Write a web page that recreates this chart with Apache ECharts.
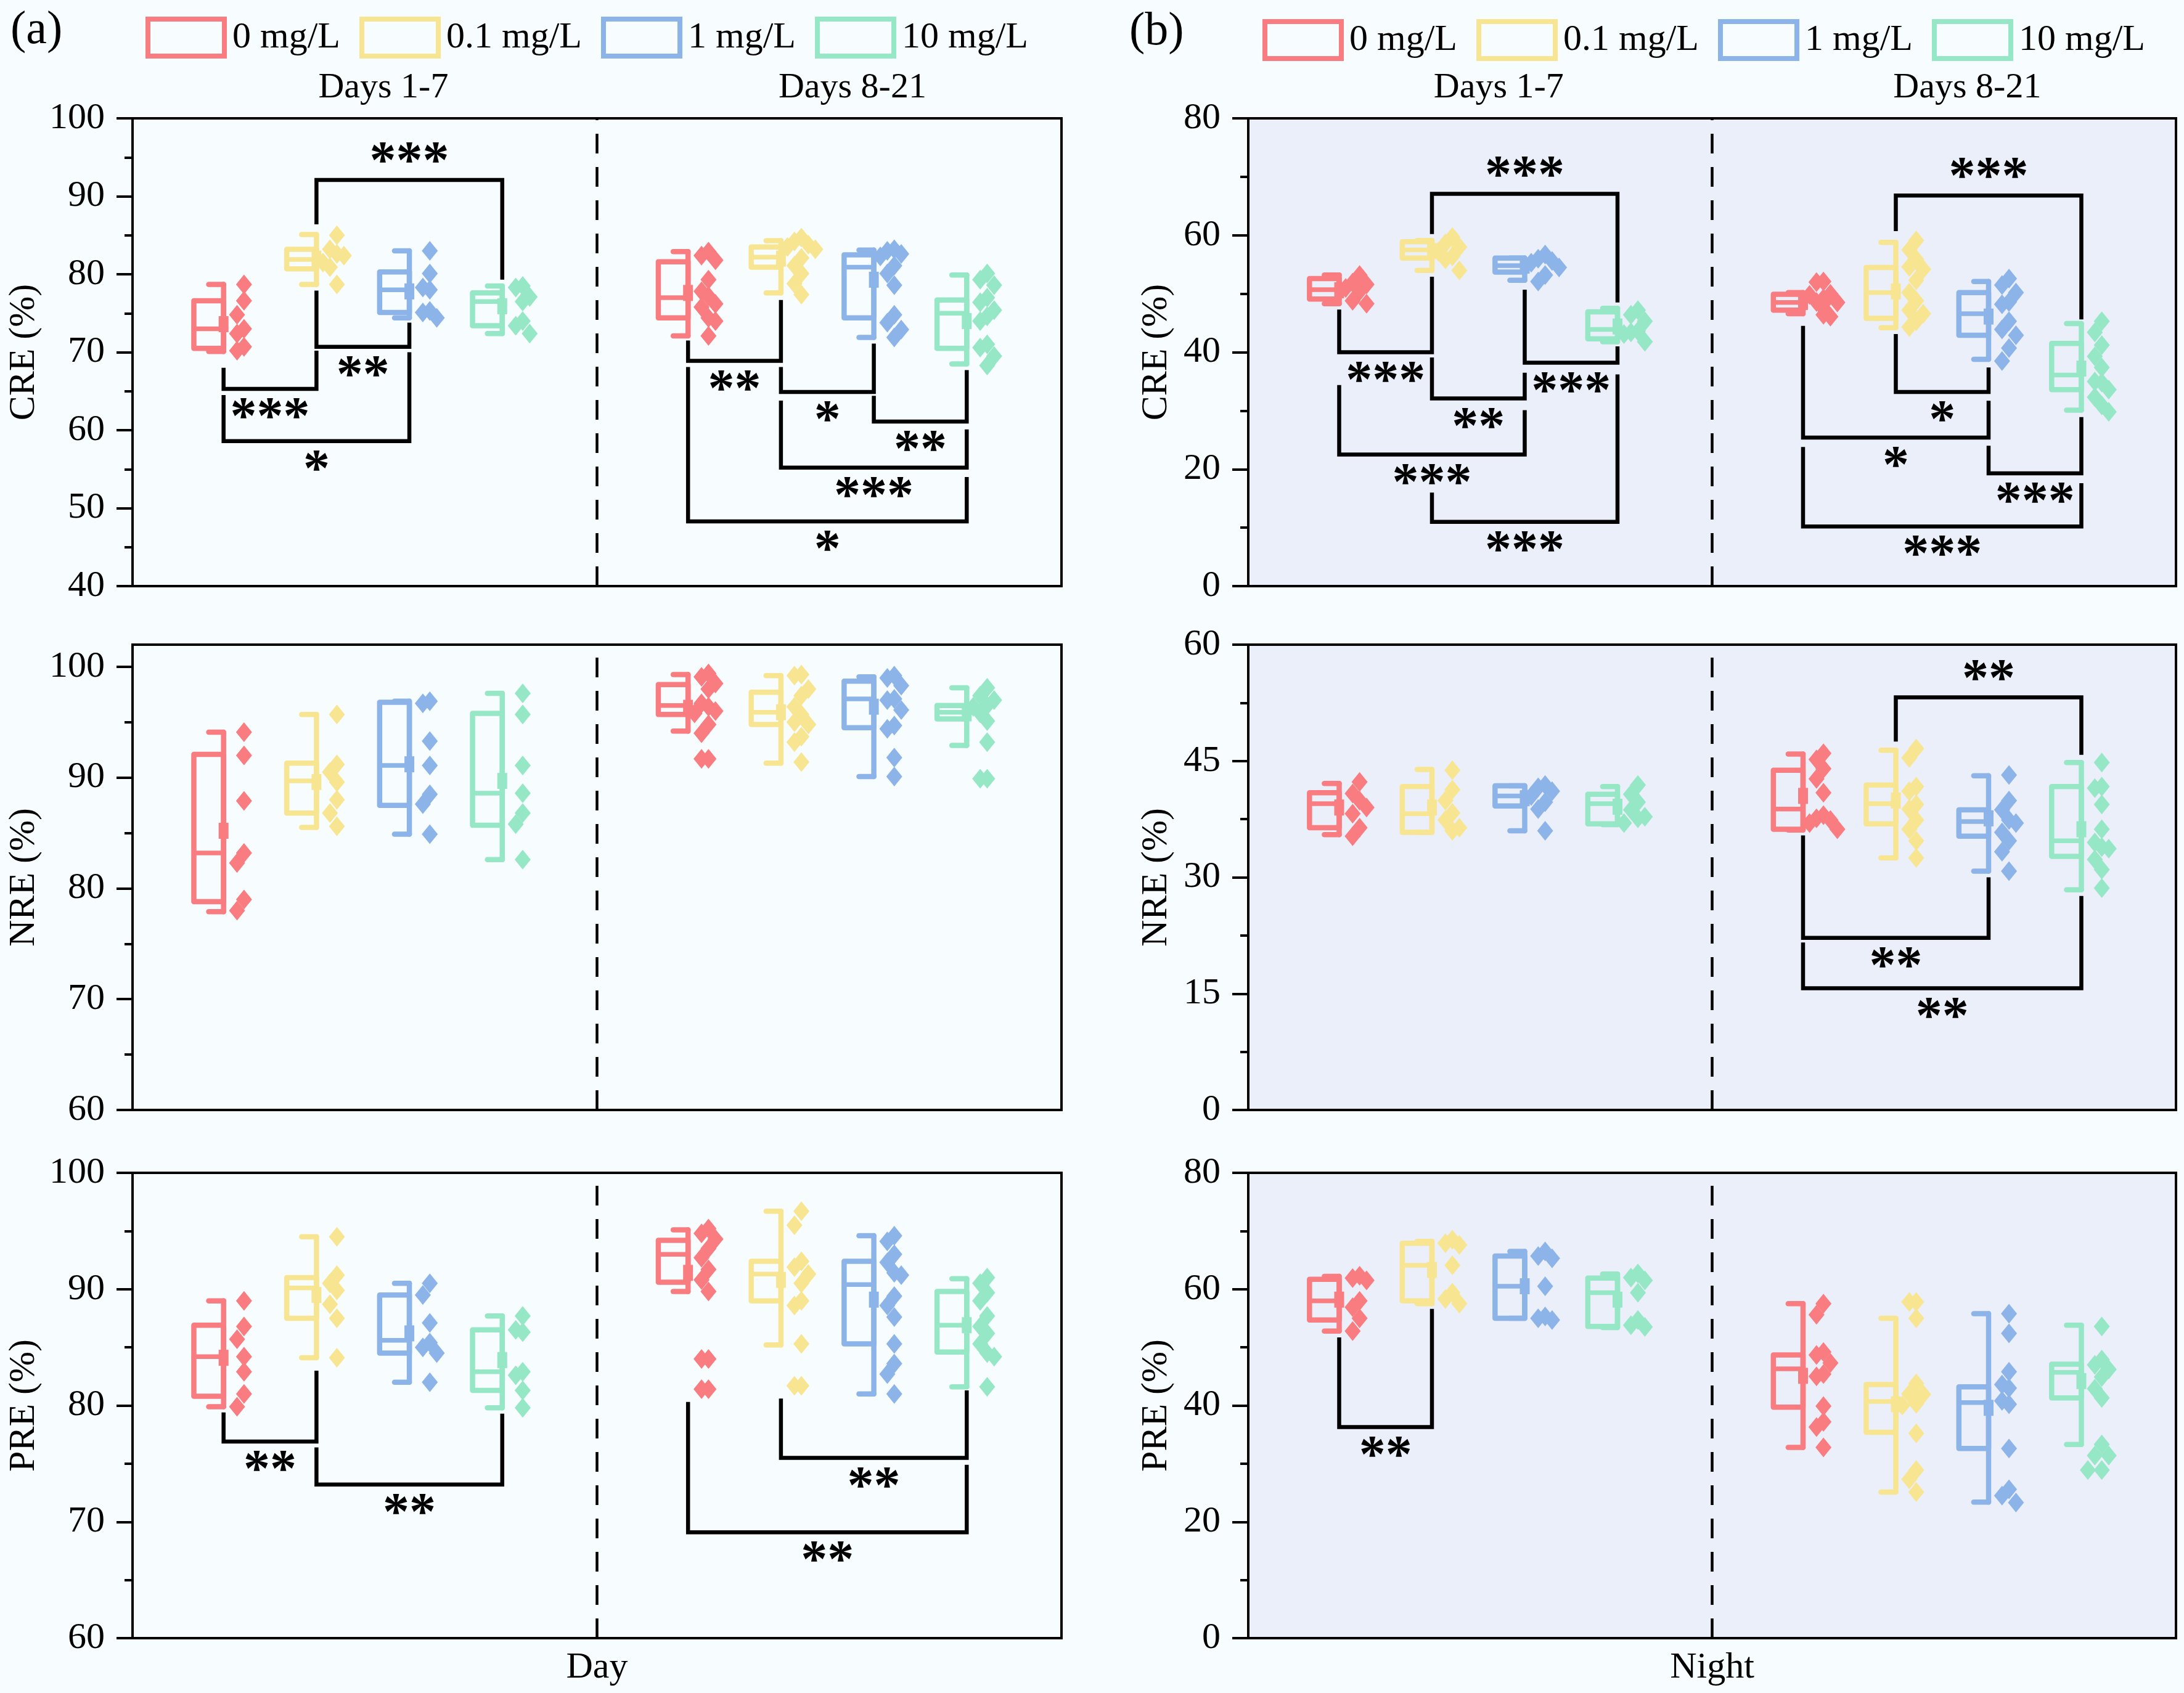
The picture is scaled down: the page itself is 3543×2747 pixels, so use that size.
<!DOCTYPE html>
<html><head><meta charset="utf-8">
<script src="https://cdn.jsdelivr.net/npm/echarts@6/dist/echarts.min.js"></script>
<style>html,body{margin:0;padding:0;background:#F7FDFF;} #c{width:3543px;height:2747px;}</style>
</head><body><div id="c"></div>
<script>
// ---------- categories / labels ----------
const concNames = ['0 mg/L', '0.1 mg/L', '1 mg/L', '10 mg/L'];
const periodLabels = ['Days 1-7', 'Days 8-21'];
const periodPos = [[1, 2, 3, 4], [6, 7, 8, 9]];
const headerPos = [2.7, 7.75];
const xAxisNames = ['Day', 'Night'];
const panelLetters = ['(a)', '(b)'];
const starLabels = ['', '*', '**', '***'];

// box stats: [min, q1, median, q3, max, mean]  (one row per concentration)
// ---- (a) Day, CRE ----
const aCRE_box_d1 = [[70.1,70.5,73.0,76.6,78.7,73.6],[78.7,80.7,81.9,83.2,85.1,82.0],[74.4,75.1,78.0,80.3,83.0,77.8],[72.4,73.4,76.5,77.6,78.5,75.9]];
const aCRE_box_d2 = [[72.1,74.4,77.0,81.6,82.9,77.6],[77.6,80.9,82.2,83.5,84.3,82.0],[71.9,74.4,80.9,82.5,83.1,79.3],[68.5,70.5,75.0,76.7,79.9,74.0]];
const aCRE_pts_d1 = [[78.7,76.6,74.8,73.0,72.4,70.7,70.2],[85.0,83.2,82.6,82.4,81.5,80.9,78.7],[83.0,80.1,78.3,78.0,75.3,75.1,74.4],[78.5,78.3,77.1,76.5,74.0,73.4,72.4]];
const aCRE_pts_d2 = [[82.9,82.4,81.8,79.3,77.8,77.2,76.2,75.8,74.4,74.0,72.1],[84.7,84.2,83.8,83.5,83.2,82.1,81.1,80.1,78.8,77.4],[83.2,83.0,82.6,82.3,81.1,80.1,78.6,74.8,73.8,72.9,71.9],[80.1,79.3,78.6,77.0,76.4,75.4,74.6,74.0,71.0,70.6,69.5,68.3]];
// significance: [x1, x2, level, leg1End, leg2End, stars]
const aCRE_sig = [[2,4,92.1,86.4,79.3,3],[2,3,70.7,77.9,73.8,2],[1,2,65.3,68.0,70.2,3],[1,3,58.6,64.5,70.0,1],[6,7,68.9,71.5,76.7,2],[7,8,64.9,68.1,71.1,1],[8,9,61.1,64.4,67.7,2],[7,9,55.2,63.8,60.1,3],[6,9,48.3,68.1,54.0,1]];
const aCRE_ticks = [40,50,60,70,80,90,100];
const aCRE_minor = [45,55,65,75,85,95];

// ---- (a) Day, NRE ----
const aNRE_box_d1 = [[77.9,78.8,83.2,92.1,94.1,85.2],[85.5,86.8,89.7,91.3,95.7,89.6],[84.9,87.5,91.1,96.8,96.9,91.2],[82.6,85.7,88.6,95.8,97.6,89.7]];
const aNRE_box_d2 = [[94.2,95.7,96.5,98.4,99.3,96.3],[91.3,94.8,95.9,97.7,99.2,95.9],[90.1,94.5,97.1,98.7,99.1,96.4],[92.9,95.3,95.9,96.5,98.1,95.8]];
const aNRE_pts_d1 = [[94.1,92.0,87.9,83.2,82.3,79.0,78.0],[95.7,91.2,90.5,89.6,88.0,86.8,85.6],[96.9,96.7,93.3,91.1,88.5,87.6,84.9],[97.6,95.7,91.1,88.6,86.8,85.8,82.6]];
const aNRE_pts_d2 = [[99.4,99.1,98.5,98.0,96.7,96.4,96.0,95.8,94.8,94.0,91.7,91.7],[99.3,99.2,98.0,97.4,96.4,95.7,95.0,94.8,93.7,93.2,91.4],[99.2,99.0,98.3,97.1,97.0,96.1,94.7,94.4,91.8,90.1],[98.1,97.4,97.0,96.5,96.4,95.8,95.1,93.2,89.9,89.9]];
const aNRE_sig = [];
const aNRE_ticks = [60,70,80,90,100];
const aNRE_minor = [65,75,85,95];

// ---- (a) Day, PRE ----
const aPRE_box_d1 = [[79.9,80.8,84.2,86.9,89.0,84.1],[84.1,87.5,90.1,91.0,94.5,89.5],[82.0,84.5,85.6,89.5,90.5,86.2],[79.8,81.3,82.9,86.5,87.7,83.9]];
const aPRE_box_d2 = [[89.8,90.6,93.0,94.2,95.1,91.4],[85.2,89.0,91.3,92.4,96.7,90.8],[81.0,85.3,90.4,92.4,94.6,89.1],[81.6,84.6,86.9,89.8,90.9,86.9]];
const aPRE_pts_d1 = [[89.0,86.8,85.7,84.2,82.9,81.0,79.9],[94.5,91.2,90.5,89.9,88.7,87.5,84.1],[90.5,89.5,87.1,85.4,85.0,84.5,82.0],[87.7,86.5,86.3,82.9,82.6,81.3,79.8]];
const aPRE_pts_d2 = [[95.2,94.8,94.3,93.5,92.7,91.7,90.8,89.8,84.0,84.0,81.4,81.4],[96.7,95.5,92.4,91.9,91.3,90.5,89.0,88.6,85.3,81.7,81.7],[94.6,94.1,93.0,92.3,91.4,91.2,89.4,88.6,87.6,85.3,83.6,82.7,81.0],[91.0,90.5,89.7,89.0,87.7,86.8,86.2,85.3,84.5,84.2,81.6]];
const aPRE_sig = [[1,2,76.9,79.4,83.0,2],[2,4,73.2,76.4,79.3,2],[7,9,75.5,80.6,81.3,2],[6,9,69.1,80.3,74.9,2]];
const aPRE_ticks = [60,70,80,90,100];
const aPRE_minor = [65,75,85,95];

// ---- (b) Night, CRE ----
const bCRE_box_d1 = [[48.3,49.1,50.7,52.6,53.2,50.6],[54.0,56.1,57.5,58.9,59.1,57.3],[52.3,53.7,54.8,56.1,56.1,54.8],[41.8,42.3,43.9,46.9,47.5,44.4]];
const bCRE_box_d2 = [[46.6,47.2,48.5,49.9,50.2,48.6],[44.2,45.8,50.2,54.5,58.8,50.4],[38.8,42.9,46.6,50.2,52.1,46.1],[30.1,33.6,36.1,41.5,44.9,37.2]];
const bCRE_pts_d1 = [[53.2,51.9,51.6,51.0,50.4,48.8,48.3],[59.7,58.6,58.0,57.2,56.4,55.9,54.0],[56.7,56.0,55.6,55.3,54.5,53.2,52.1],[47.2,46.4,45.3,43.6,43.4,43.1,41.8]];
const bCRE_pts_d2 = [[52.1,52.0,50.0,49.8,49.2,48.6,48.5,48.3,47.5,46.4,46.1],[59.1,57.5,55.9,54.6,54.2,52.3,50.2,48.8,47.2,46.6,45.3,44.3],[52.6,51.5,50.2,48.6,48.2,45.3,43.9,42.9,40.7,38.5],[45.3,43.4,41.2,39.3,37.4,35.0,34.8,33.6,32.3,30.9,29.8]];
const bCRE_sig = [[2,4,67.1,60.2,48.5,3],[1,2,40.0,47.3,52.9,3],[3,4,38.2,50.7,41.0,3],[2,3,32.1,39.1,36.5,2],[1,3,22.5,34.4,30.1,3],[2,4,11.0,16.0,36.2,3],[7,9,66.8,60.7,45.6,3],[7,8,33.2,43.1,37.4,1],[6,8,25.4,44.5,31.7,1],[8,9,19.3,24.0,28.9,3],[6,9,10.2,23.8,17.6,3]];
const bCRE_ticks = [0,20,40,60,80];
const bCRE_minor = [10,30,50,70];

// ---- (b) Night, NRE ----
const bNRE_box_d1 = [[35.5,36.4,39.5,40.9,42.1,39.0],[35.8,35.8,38.2,41.7,43.9,39.0],[36.0,39.2,40.5,41.8,41.8,40.2],[36.8,36.9,39.5,40.7,41.7,39.1]];
const bNRE_box_d2 = [[36.1,36.2,38.8,43.8,45.9,40.5],[32.5,36.9,39.5,41.9,46.4,39.9],[30.8,35.3,37.2,38.7,43.1,37.6],[28.4,32.7,34.7,41.7,44.8,36.2]];
const bNRE_pts_d1 = [[42.3,40.8,39.9,39.0,38.2,36.4,35.3],[43.8,41.3,39.9,38.3,37.4,36.4,36.0],[41.9,41.6,41.1,40.5,39.7,38.8,36.0],[41.9,40.7,39.7,38.7,37.8,37.6,37.0]];
const bNRE_pts_d2 = [[46.0,45.2,44.0,42.7,40.9,38.0,37.6,37.4,37.0,36.2],[46.6,45.4,41.7,41.1,39.4,38.8,37.4,36.2,34.7,32.5],[43.2,39.9,38.7,37.4,37.0,35.8,34.7,33.3,30.8],[44.8,41.7,41.5,39.4,36.2,34.5,33.9,33.7,32.3,31.0,28.6]];
const bNRE_sig = [[7,9,53.2,47.5,45.8,2],[6,8,22.2,35.4,30.0,2],[6,9,15.7,21.6,27.6,2]];
const bNRE_ticks = [0,15,30,45,60];
const bNRE_minor = [7.5,22.5,37.5,52.5];

// ---- (b) Night, PRE ----
const bPRE_box_d1 = [[52.8,54.7,58.0,61.7,62.2,58.2],[57.5,58.0,64.1,67.9,68.2,63.3],[55.0,55.0,60.5,65.7,66.5,60.5],[53.4,53.6,59.4,61.9,62.6,58.2]];
const bPRE_box_d2 = [[32.8,39.7,46.3,48.7,57.5,45.1],[25.1,35.4,40.7,43.6,55.0,40.2],[23.4,32.6,40.5,43.2,55.8,39.6],[33.3,41.3,45.7,47.1,53.8,44.2]];
const bPRE_pts_d1 = [[62.3,61.9,61.5,58.0,56.9,55.0,52.8],[68.5,67.9,67.6,64.1,59.4,58.3,57.5],[66.5,65.7,65.3,60.5,55.3,55.0,54.7],[62.7,62.0,61.5,59.4,54.7,53.8,53.5]];
const bPRE_pts_d2 = [[57.5,55.6,49.2,48.7,47.3,45.4,45.0,39.9,37.2,36.3,32.8],[57.8,57.8,55.0,43.8,42.0,41.9,40.3,40.0,35.2,28.9,27.3,25.1],[55.8,52.4,45.8,43.6,43.0,40.8,40.2,32.6,25.6,24.5,23.3],[53.6,47.9,47.0,46.2,44.9,42.9,41.3,33.3,31.4,31.4,28.9,28.9]];
const bPRE_sig = [[1,2,36.3,51.7,56.6,2]];
const bPRE_ticks = [0,20,40,60,80];
const bPRE_minor = [10,30,50,70];

// ---------- styling / layout ----------
const colors = ['#F87C80', '#F8E592', '#8DB4E8', '#96E7C5'];
const FONT = 'Liberation Serif';
const colLeft = [215, 2025], colWidth = [1507, 1505];
const rowTop = [192, 1046, 1903], rowHeight = [759, 755, 755];
const bgPanel = ['#F7FDFF', '#EBEFF9'];
const nameGaps = [146, 119];

const panels = [
  {side:0,row:0,name:'CRE (%)',min:40,max:100,ticks:aCRE_ticks,minor:aCRE_minor,box:[aCRE_box_d1,aCRE_box_d2],pts:[aCRE_pts_d1,aCRE_pts_d2],sig:aCRE_sig},
  {side:1,row:0,name:'CRE (%)',min:0,max:80,ticks:bCRE_ticks,minor:bCRE_minor,box:[bCRE_box_d1,bCRE_box_d2],pts:[bCRE_pts_d1,bCRE_pts_d2],sig:bCRE_sig},
  {side:0,row:1,name:'NRE (%)',min:60,max:102,ticks:aNRE_ticks,minor:aNRE_minor,box:[aNRE_box_d1,aNRE_box_d2],pts:[aNRE_pts_d1,aNRE_pts_d2],sig:aNRE_sig},
  {side:1,row:1,name:'NRE (%)',min:0,max:60,ticks:bNRE_ticks,minor:bNRE_minor,box:[bNRE_box_d1,bNRE_box_d2],pts:[bNRE_pts_d1,bNRE_pts_d2],sig:bNRE_sig},
  {side:0,row:2,name:'PRE (%)',min:60,max:100,ticks:aPRE_ticks,minor:aPRE_minor,box:[aPRE_box_d1,aPRE_box_d2],pts:[aPRE_pts_d1,aPRE_pts_d2],sig:aPRE_sig},
  {side:1,row:2,name:'PRE (%)',min:0,max:80,ticks:bPRE_ticks,minor:bPRE_minor,box:[bPRE_box_d1,bPRE_box_d2],pts:[bPRE_pts_d1,bPRE_pts_d2],sig:bPRE_sig}
];

const BOX_W = 0.32, WHISK_SHIFT = 0.02, PT_SHIFT = 0.2, SLOT = 0.075;

function swarmSlots(vals, range) {
  const thr = range * 0.032;
  const order = [0, -1, 1, -2, 2];
  const placed = [];
  return vals.map(v => {
    for (const s of order) {
      if (!placed.some(p => p.s === s && Math.abs(p.v - v) < thr)) { placed.push({s, v}); return s; }
    }
    return 0;
  });
}

function boxRenderer(color) {
  return function (params, api) {
    const pos = api.value(0);
    const mn = api.value(1), q1 = api.value(2), md = api.value(3), q3 = api.value(4), mx = api.value(5), mean = api.value(6);
    const xr = pos - WHISK_SHIFT, xl = xr - BOX_W, xc = xr - BOX_W / 2;
    const pTL = api.coord([xl, q3]), pBR = api.coord([xr, q1]);
    const pMax = api.coord([xr, mx]), pMin = api.coord([xr, mn]);
    const pCapL = api.coord([xc, mx]), pCapL2 = api.coord([xc, mn]);
    const pMedL = api.coord([xl, md]), pMedR = api.coord([xr, md]);
    const pMean = api.coord([xr, mean]);
    const st = {stroke: color, lineWidth: 8.5, fill: null, lineJoin: 'round', lineCap: 'round'};
    return {type: 'group', children: [
      {type: 'rect', shape: {x: pTL[0], y: pTL[1], width: pBR[0] - pTL[0], height: pBR[1] - pTL[1]}, style: st},
      {type: 'line', shape: {x1: pMax[0], y1: pMax[1], x2: pMin[0], y2: pMin[1]}, style: st},
      {type: 'line', shape: {x1: pCapL[0], y1: pCapL[1], x2: pMax[0], y2: pMax[1]}, style: st},
      {type: 'line', shape: {x1: pCapL2[0], y1: pCapL2[1], x2: pMin[0], y2: pMin[1]}, style: st},
      {type: 'line', shape: {x1: pMedL[0], y1: pMedL[1], x2: pMedR[0], y2: pMedR[1]}, style: Object.assign({}, st, {lineWidth: 7.5})},
      {type: 'rect', shape: {x: pMean[0] - 8, y: pMean[1] - 13, width: 16, height: 26}, style: {fill: color}}
    ]};
  };
}

function sigRenderer(params, api) {
  const x1 = api.value(0) - WHISK_SHIFT, x2 = api.value(1) - WHISK_SHIFT;
  const lv = api.value(2), l1 = api.value(3), l2 = api.value(4), n = api.value(5);
  const a = api.coord([x1, l1]), b = api.coord([x1, lv]), c = api.coord([x2, lv]), d = api.coord([x2, l2]);
  const above = l1 < lv;
  const fs = 86;
  const glyphCenter = above ? b[1] - 38 : b[1] + 38;
  return {type: 'group', children: [
    {type: 'polyline', shape: {points: [a, b, c, d]}, style: {stroke: '#000', lineWidth: 6.5, fill: null, lineJoin: 'miter'}},
    {type: 'text', x: (b[0] + c[0]) / 2, y: glyphCenter + fs * 0.14,
     style: {text: starLabels[n], fontSize: fs, fontWeight: 'bold', fontFamily: FONT, fill: '#000', align: 'center', verticalAlign: 'middle'}}
  ]};
}

const grids = [], xAxes = [], yAxes = [], series = [];
panels.forEach((p, g) => {
  grids.push({left: colLeft[p.side], top: rowTop[p.row], width: colWidth[p.side], height: rowHeight[p.row],
    show: true, backgroundColor: bgPanel[p.side], borderColor: '#000', borderWidth: 4, containLabel: false});
  xAxes.push({gridIndex: g, type: 'value', min: 0, max: 10, position: 'bottom',
    axisLine: {show: true, onZero: false, lineStyle: {color: '#000', width: 4}},
    axisTick: {show: false}, axisLabel: {show: false}, splitLine: {show: false},
    name: p.row === 2 ? xAxisNames[p.side] : '', nameLocation: 'middle', nameGap: 18,
    nameTextStyle: {fontSize: 60, fontFamily: FONT, color: '#000', verticalAlign: 'top'}});
  yAxes.push({gridIndex: g, type: 'value', min: p.min, max: p.max, position: 'left',
    axisLine: {show: true, onZero: false, lineStyle: {color: '#000', width: 4}},
    axisTick: {show: true, inside: false, length: 26, lineStyle: {color: '#000', width: 4}, customValues: p.ticks},
    axisLabel: {show: true, margin: 45, fontSize: 60, fontFamily: FONT, color: '#000', customValues: p.ticks},
    splitLine: {show: false},
    name: p.name, nameLocation: 'middle', nameGap: nameGaps[p.side],
    nameTextStyle: {fontSize: 60, fontFamily: FONT, color: '#000'}});
  const yi = yAxes.length - 1;
  yAxes.push({gridIndex: g, type: 'value', min: p.min, max: p.max, position: 'left',
    axisLine: {show: false}, axisLabel: {show: false}, splitLine: {show: false},
    axisTick: {show: true, inside: false, length: 13, lineStyle: {color: '#000', width: 4}, customValues: p.minor}});
  const xi = xAxes.length - 1;
  if (p.row === 0) {
    xAxes.push({gridIndex: g, type: 'value', min: 0, max: 10, position: 'top',
      axisLine: {show: false}, axisTick: {show: false}, splitLine: {show: false},
      axisLabel: {show: true, customValues: headerPos, margin: 20, fontSize: 58, fontFamily: FONT, color: '#000',
        formatter: v => (v < 5 ? periodLabels[0] : periodLabels[1])}});
  }
  const range = p.max - p.min;
  concNames.forEach((nm, c) => {
    const boxData = [0, 1].map(per => [periodPos[per][c]].concat(p.box[per][c]));
    series.push({type: 'custom', name: nm, xAxisIndex: xi, yAxisIndex: yi, renderItem: boxRenderer(colors[c]),
      data: boxData, z: 2, silent: true, itemStyle: {color: colors[c]}});
  });
  concNames.forEach((nm, c) => {
    const pts = [];
    [0, 1].forEach(per => {
      const vals = p.pts[per][c];
      const slots = swarmSlots(vals, range);
      vals.forEach((v, i) => pts.push([periodPos[per][c] + PT_SHIFT + slots[i] * SLOT, v]));
    });
    const s = {type: 'scatter', name: nm, xAxisIndex: xi, yAxisIndex: yi, data: pts, symbol: 'diamond',
      symbolSize: [26, 32], itemStyle: {color: colors[c], opacity: 1}, z: 3, silent: true};
    if (c === 0) {
      s.markLine = {silent: true, symbol: ['none', 'none'], label: {show: false},
        lineStyle: {color: '#000', width: 4.5, type: [32, 22]}, data: [{xAxis: 5}], animation: false};
    }
    series.push(s);
  });
  series.push({type: 'custom', xAxisIndex: xi, yAxisIndex: yi, renderItem: sigRenderer, data: p.sig, z: 4, silent: true});
});

const legends = [0, 1].map(i => ({
  left: [231, 2043][i], top: [22, 26][i], orient: 'horizontal', itemWidth: 124, itemHeight: 60, itemGap: 31,
  selectedMode: false, textStyle: {fontSize: 60, fontFamily: FONT, color: '#000', padding: [6, 0, 0, 8]},
  data: concNames.map((n, c) => ({name: n, icon: 'rect',
    itemStyle: {color: 'rgba(0,0,0,0)', borderColor: colors[c], borderWidth: 8}}))
}));

const chart = echarts.init(document.getElementById('c'), null, {renderer: 'canvas'});
chart.setOption({
  backgroundColor: '#F7FDFF',
  animation: false,
  grid: grids, xAxis: xAxes, yAxis: yAxes, series: series, legend: legends,
  graphic: [
    {type: 'text', left: 17, top: 12, style: {text: panelLetters[0], fontSize: 76, fontFamily: FONT, fill: '#000'}},
    {type: 'text', left: 1832, top: 14, style: {text: panelLetters[1], fontSize: 76, fontFamily: FONT, fill: '#000'}}
  ]
});
</script></body></html>
